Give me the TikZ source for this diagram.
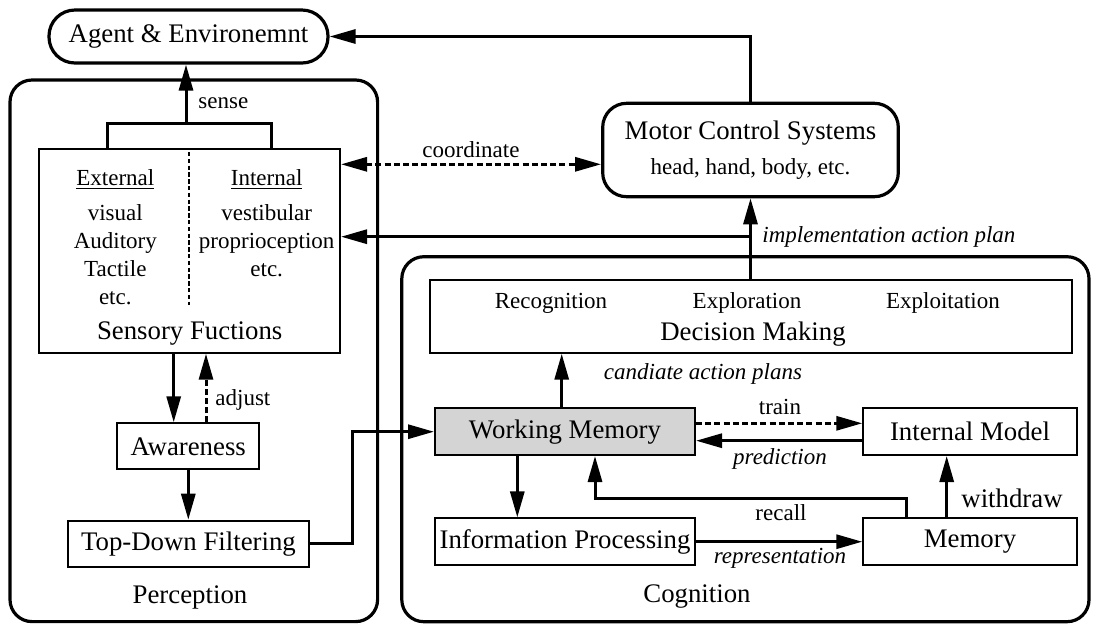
\documentclass[tikz,border=0pt]{standalone}
\usepackage{fontspec}
\setmainfont{Liberation Serif}
\usetikzlibrary{arrows.meta}
\newcommand\mainsz{\fontsize{13.4}{16}\selectfont}
\newcommand\smallsz{\fontsize{11.5}{14}\selectfont}
\definecolor{wmgray}{RGB}{212,212,212}
\begin{document}
\begin{tikzpicture}[x=0.5pt,y=-0.5pt,
  box/.style={draw, line width=1pt, inner sep=0pt, font=\mainsz, align=center},
  rbox/.style={draw, line width=1.6pt, rounded corners=12pt, inner sep=0pt, font=\mainsz, align=center},
  frame/.style={draw, line width=1.6pt, rounded corners=11pt, inner sep=0pt},
  txt/.style={inner sep=0pt, font=\smallsz, align=center},
  itxt/.style={inner sep=0pt, font=\smallsz\itshape},
  big/.style={inner sep=0pt, font=\mainsz},
  conn/.style={line width=1.5pt},
  arr/.style={line width=1.5pt, -{Triangle[length=13pt,width=7pt]}},
  dashline/.style={dash pattern=on 3pt off 1.6pt},
]
\useasboundingbox (0,0) rectangle (1093,623);

% containers
\node[frame, minimum width=183.8pt, minimum height=270.8pt] (perc) at (193.8,350.8) {};
\node[frame, minimum width=343.6pt, minimum height=182.5pt] (cogn) at (745.4,439.2) {};

% top boxes
\node[rbox, rounded corners=13pt, minimum width=139.5pt, minimum height=26.5pt] (agent) at (188.5,36.5) {Agent \& Environemnt};
\node[rbox, minimum width=147.8pt, minimum height=46.7pt] (motor) at (750.5,150)
  {Motor Control Systems\\[1.2pt]{\smallsz head, hand, body, etc.}};

% perception boxes
\node[box, minimum width=150.3pt, minimum height=101.7pt] (sensory) at (189.7,251) {};
\node[box, minimum width=71pt, minimum height=23pt] (aware) at (188.3,446.3) {Awareness};
\node[box, minimum width=120.8pt, minimum height=23pt] (topdown) at (188.5,543.7) {Top-Down Filtering};

% sensory box contents
\node[txt, anchor=base] (exth) at (115.3,185) {\underline{External}};
\node[txt, anchor=base] (inth) at (266.7,185) {\underline{Internal}};
\node[txt] (extl) at (115.3,254.5) {visual\\Auditory\\Tactile\\etc.};
\node[txt] (intl) at (266.7,240.5) {vestibular\\proprioception\\etc.};
\node[big, anchor=base] (sensl) at (189.7,339) {Sensory Fuctions};
\coordinate (divtop) at (189,152);
\coordinate (divbot) at (189,305);
\draw[line width=0.9pt, dash pattern=on 2.2pt off 1.2pt] (divtop) -- (divbot);

% cognition boxes
\node[box, minimum width=320.8pt, minimum height=36.3pt] (decision) at (750.8,316.4) {};
\node[txt, anchor=base] (recog) at (551,308.3) {Recognition};
\node[txt, anchor=base] (explor) at (747,308.3) {Exploration};
\node[txt, anchor=base] (exploit) at (943,308.3) {Exploitation};
\node[big, anchor=base] (decl) at (753,340.7) {Decision Making};

\node[box, fill=wmgray, minimum width=130pt, minimum height=23.3pt] (wm) at (565,431.7) {Working Memory};
\node[box, minimum width=106.7pt, minimum height=23.3pt] (im) at (970,431.7) {Internal Model};
\node[box, minimum width=130pt, minimum height=23.3pt] (ip) at (565,541.7) {Information Processing};
\node[box, minimum width=106.7pt, minimum height=23.3pt] (mem) at (970,541.7) {Memory};

% container titles
\node[big] (perl) at (190,597) {Perception};
\node[big] (cogl) at (697,597) {Cognition};

% helper coordinates
\coordinate (sl) at (107.7,0);
\coordinate (sr) at (271,0);
\coordinate (sj) at (186,123);
\coordinate (coy) at (0,164.3);
\coordinate (imy) at (0,236.7);
\coordinate (dnx) at (173.7,0);
\coordinate (upx) at (206,0);
\coordinate (tj) at (352.7,0);
\coordinate (cax) at (561.7,0);
\coordinate (try) at (0,423.3);
\coordinate (pry) at (0,440.7);
\coordinate (wdx) at (946.7,0);
\coordinate (rcx) at (906.7,0);
\coordinate (rcy) at (595,498.3);
\coordinate (ipx) at (517.3,0);

% sense
\draw[conn] (sensory.north -| sl) |- (sj) -| (sensory.north -| sr);
\draw[arr] (sj) -- (agent.south -| sj);
\node[txt, anchor=west] (sensel) at (198,103) {sense};

% motor to agent
\draw[arr] (motor.north) |- (agent.east);

% coordinate
\draw[line width=1.5pt, dashline, {Triangle[length=13pt,width=7pt]}-{Triangle[length=13pt,width=7pt]}]
  (sensory.east |- coy) -- (motor.west |- coy);
\node[txt] (coordl) at (471,150) {coordinate};

% implementation action plan
\draw[arr] (motor.south |- decision.north) -- (motor.south);
\draw[arr] (motor.south |- imy) -- (sensory.east |- imy);
\node[itxt, anchor=west] (impll) at (762,237) {implementation action plan};

% perception flow
\draw[arr] (sensory.south -| dnx) -- (aware.north -| dnx);
\draw[arr, dashline] (aware.north -| upx) -- (sensory.south -| upx);
\node[txt, anchor=west] (adjl) at (215,400) {adjust};
\draw[arr] (aware.south) -- (topdown.north -| aware.south);
\draw[arr] (topdown.east) -| (tj |- wm.west) -- (wm.west);

% cognition flow
\draw[arr] (wm.north -| cax) -- (decision.south -| cax);
\node[itxt] (candl) at (703,374) {candiate action plans};
\draw[arr, dashline] (wm.east |- try) -- (im.west |- try);
\node[txt] (trainl) at (780,407) {train};
\draw[arr] (im.west |- pry) -- (wm.east |- pry);
\node[itxt] (predl) at (780,459) {prediction};
\draw[arr] (mem.north -| wdx) -- (im.south -| wdx);
\node[big, anchor=west] (wdl) at (961,498) {withdraw};
\draw[arr] (mem.north -| rcx) |- (rcy) -- (wm.south -| rcy);
\node[txt] (recl) at (781,513) {recall};
\draw[arr] (wm.south -| ipx) -- (ip.north -| ipx);
\draw[arr] (ip.east) -- (mem.west);
\node[itxt] (repl) at (780,558) {representation};
\end{tikzpicture}
\end{document}
